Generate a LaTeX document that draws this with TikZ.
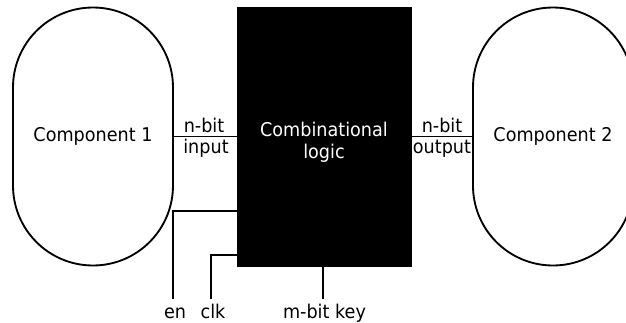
\documentclass[tikz,border=0pt]{standalone}
\usepackage{fontspec}
\setmainfont[FakeStretch=0.93]{DejaVu Sans}
\begin{document}
\begin{tikzpicture}[x=0.75pt,y=-0.75pt,
  txt/.style={font=\fontsize{14.2}{16.5}\selectfont},
  comp/.style={draw,line width=1.4pt,rounded corners=60pt,minimum width=120pt,minimum height=193.5pt,inner sep=0pt,txt},
  logicbox/.style={fill=black,draw=black,minimum width=130.5pt,minimum height=194pt,inner sep=0pt},
  logictext/.style={text=white,align=center,inner sep=0pt,txt},
  wire/.style={line width=1.4pt},
  lbl/.style={txt,inner sep=0pt}]
\useasboundingbox (0,0) rectangle (626,322);
\begin{scope}
\clip (0,0) rectangle (626,322);
\node[comp] (c1) at (93,136.5) {Component 1};
\node[comp] (c2) at (553,136.5) {Component 2};
\end{scope}
\node[logicbox] (logic) at (324,136.5) {};
\node[logictext] (logictxt) at (324,142) {Combinational\\logic};
\draw[wire] (c1.east) -- (logic.west |- c1.east);
\draw[wire] (logic.east |- c2.west) -- (c2.west);
\node[lbl,anchor=base] (nin) at (204,132) {n-bit};
\node[lbl,anchor=base] (iin) at (206,153) {input};
\node[lbl,anchor=base] (nout) at (442,132) {n-bit};
\node[lbl,anchor=base] (oout) at (442,153) {output};
\node[lbl,anchor=base] (en) at (175,318) {en};
\node[lbl,anchor=base] (clk) at (213,318) {clk};
\node[lbl,anchor=base] (key) at (324.5,318) {m-bit key};
\coordinate (enend) at (173,299);
\coordinate (clkend) at (211,299);
\coordinate (keyend) at (323,299);
\draw[wire] (logic.west |- 0,211) -| (enend);
\draw[wire] (logic.west |- 0,255) -| (clkend);
\draw[wire] (logic.south -| keyend) -- (keyend);
\end{tikzpicture}
\end{document}
